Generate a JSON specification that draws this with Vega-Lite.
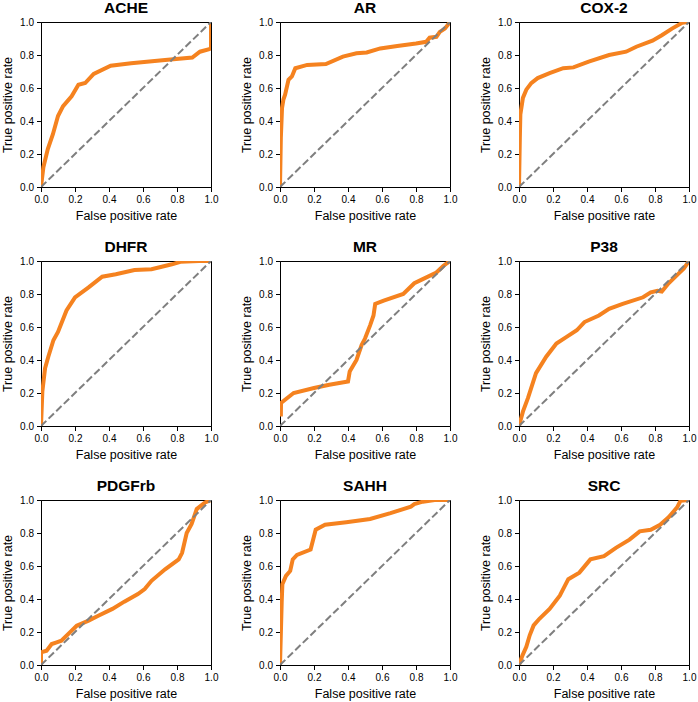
{
  "$schema": "https://vega.github.io/schema/vega-lite/v6.json",
  "padding": {"left": 1, "top": 0, "right": 5, "bottom": 0},
  "data": {"values": [
    {"t":"ACHE","k":"roc","x":0,"y":0},{"t":"ACHE","k":"roc","x":0.014,"y":0.12},{"t":"ACHE","k":"roc","x":0.04,"y":0.23},{"t":"ACHE","k":"roc","x":0.07,"y":0.32},{"t":"ACHE","k":"roc","x":0.1,"y":0.43},{"t":"ACHE","k":"roc","x":0.13,"y":0.49},{"t":"ACHE","k":"roc","x":0.18,"y":0.55},{"t":"ACHE","k":"roc","x":0.22,"y":0.62},{"t":"ACHE","k":"roc","x":0.26,"y":0.63},{"t":"ACHE","k":"roc","x":0.31,"y":0.685},{"t":"ACHE","k":"roc","x":0.41,"y":0.735},{"t":"ACHE","k":"roc","x":0.53,"y":0.75},{"t":"ACHE","k":"roc","x":0.73,"y":0.77},{"t":"ACHE","k":"roc","x":0.89,"y":0.785},{"t":"ACHE","k":"roc","x":0.935,"y":0.82},{"t":"ACHE","k":"roc","x":0.99,"y":0.835},{"t":"ACHE","k":"roc","x":1,"y":0.84},{"t":"ACHE","k":"roc","x":1,"y":1},
    {"t":"AR","k":"roc","x":0,"y":0},{"t":"AR","k":"roc","x":0.005,"y":0.3},{"t":"AR","k":"roc","x":0.012,"y":0.48},{"t":"AR","k":"roc","x":0.02,"y":0.53},{"t":"AR","k":"roc","x":0.03,"y":0.56},{"t":"AR","k":"roc","x":0.05,"y":0.65},{"t":"AR","k":"roc","x":0.07,"y":0.67},{"t":"AR","k":"roc","x":0.09,"y":0.72},{"t":"AR","k":"roc","x":0.16,"y":0.74},{"t":"AR","k":"roc","x":0.27,"y":0.745},{"t":"AR","k":"roc","x":0.37,"y":0.79},{"t":"AR","k":"roc","x":0.45,"y":0.81},{"t":"AR","k":"roc","x":0.51,"y":0.815},{"t":"AR","k":"roc","x":0.59,"y":0.84},{"t":"AR","k":"roc","x":0.69,"y":0.855},{"t":"AR","k":"roc","x":0.8,"y":0.87},{"t":"AR","k":"roc","x":0.86,"y":0.88},{"t":"AR","k":"roc","x":0.88,"y":0.905},{"t":"AR","k":"roc","x":0.92,"y":0.91},{"t":"AR","k":"roc","x":0.94,"y":0.94},{"t":"AR","k":"roc","x":0.97,"y":0.96},{"t":"AR","k":"roc","x":1,"y":1},
    {"t":"COX-2","k":"roc","x":0,"y":0},{"t":"COX-2","k":"roc","x":0.005,"y":0.3},{"t":"COX-2","k":"roc","x":0.008,"y":0.44},{"t":"COX-2","k":"roc","x":0.023,"y":0.54},{"t":"COX-2","k":"roc","x":0.043,"y":0.59},{"t":"COX-2","k":"roc","x":0.072,"y":0.63},{"t":"COX-2","k":"roc","x":0.11,"y":0.66},{"t":"COX-2","k":"roc","x":0.18,"y":0.69},{"t":"COX-2","k":"roc","x":0.26,"y":0.72},{"t":"COX-2","k":"roc","x":0.32,"y":0.725},{"t":"COX-2","k":"roc","x":0.41,"y":0.76},{"t":"COX-2","k":"roc","x":0.53,"y":0.8},{"t":"COX-2","k":"roc","x":0.63,"y":0.82},{"t":"COX-2","k":"roc","x":0.69,"y":0.85},{"t":"COX-2","k":"roc","x":0.785,"y":0.887},{"t":"COX-2","k":"roc","x":0.84,"y":0.92},{"t":"COX-2","k":"roc","x":0.9,"y":0.96},{"t":"COX-2","k":"roc","x":0.96,"y":0.995},{"t":"COX-2","k":"roc","x":1,"y":1},
    {"t":"DHFR","k":"roc","x":0,"y":0},{"t":"DHFR","k":"roc","x":0.008,"y":0.21},{"t":"DHFR","k":"roc","x":0.024,"y":0.35},{"t":"DHFR","k":"roc","x":0.043,"y":0.42},{"t":"DHFR","k":"roc","x":0.073,"y":0.52},{"t":"DHFR","k":"roc","x":0.1,"y":0.57},{"t":"DHFR","k":"roc","x":0.15,"y":0.7},{"t":"DHFR","k":"roc","x":0.2,"y":0.78},{"t":"DHFR","k":"roc","x":0.28,"y":0.84},{"t":"DHFR","k":"roc","x":0.36,"y":0.905},{"t":"DHFR","k":"roc","x":0.44,"y":0.92},{"t":"DHFR","k":"roc","x":0.55,"y":0.945},{"t":"DHFR","k":"roc","x":0.65,"y":0.95},{"t":"DHFR","k":"roc","x":0.71,"y":0.965},{"t":"DHFR","k":"roc","x":0.77,"y":0.98},{"t":"DHFR","k":"roc","x":0.82,"y":0.995},{"t":"DHFR","k":"roc","x":0.93,"y":1},{"t":"DHFR","k":"roc","x":1,"y":1},
    {"t":"MR","k":"roc","x":0.005,"y":0.057},{"t":"MR","k":"roc","x":0.006,"y":0.14},{"t":"MR","k":"roc","x":0.08,"y":0.2},{"t":"MR","k":"roc","x":0.2,"y":0.23},{"t":"MR","k":"roc","x":0.29,"y":0.25},{"t":"MR","k":"roc","x":0.4,"y":0.27},{"t":"MR","k":"roc","x":0.41,"y":0.33},{"t":"MR","k":"roc","x":0.45,"y":0.4},{"t":"MR","k":"roc","x":0.48,"y":0.49},{"t":"MR","k":"roc","x":0.5,"y":0.53},{"t":"MR","k":"roc","x":0.53,"y":0.61},{"t":"MR","k":"roc","x":0.55,"y":0.67},{"t":"MR","k":"roc","x":0.56,"y":0.74},{"t":"MR","k":"roc","x":0.61,"y":0.76},{"t":"MR","k":"roc","x":0.725,"y":0.8},{"t":"MR","k":"roc","x":0.79,"y":0.865},{"t":"MR","k":"roc","x":0.84,"y":0.89},{"t":"MR","k":"roc","x":0.92,"y":0.93},{"t":"MR","k":"roc","x":0.96,"y":0.97},{"t":"MR","k":"roc","x":1,"y":1},
    {"t":"P38","k":"roc","x":0,"y":0},{"t":"P38","k":"roc","x":0.023,"y":0.087},{"t":"P38","k":"roc","x":0.053,"y":0.17},{"t":"P38","k":"roc","x":0.1,"y":0.32},{"t":"P38","k":"roc","x":0.16,"y":0.42},{"t":"P38","k":"roc","x":0.22,"y":0.5},{"t":"P38","k":"roc","x":0.28,"y":0.54},{"t":"P38","k":"roc","x":0.34,"y":0.58},{"t":"P38","k":"roc","x":0.385,"y":0.63},{"t":"P38","k":"roc","x":0.47,"y":0.67},{"t":"P38","k":"roc","x":0.53,"y":0.71},{"t":"P38","k":"roc","x":0.61,"y":0.74},{"t":"P38","k":"roc","x":0.73,"y":0.78},{"t":"P38","k":"roc","x":0.775,"y":0.81},{"t":"P38","k":"roc","x":0.815,"y":0.82},{"t":"P38","k":"roc","x":0.84,"y":0.815},{"t":"P38","k":"roc","x":0.88,"y":0.865},{"t":"P38","k":"roc","x":0.94,"y":0.925},{"t":"P38","k":"roc","x":0.97,"y":0.955},{"t":"P38","k":"roc","x":1,"y":1},
    {"t":"PDGFrb","k":"roc","x":0,"y":0},{"t":"PDGFrb","k":"roc","x":0,"y":0.077},{"t":"PDGFrb","k":"roc","x":0.033,"y":0.087},{"t":"PDGFrb","k":"roc","x":0.063,"y":0.127},{"t":"PDGFrb","k":"roc","x":0.092,"y":0.137},{"t":"PDGFrb","k":"roc","x":0.12,"y":0.147},{"t":"PDGFrb","k":"roc","x":0.17,"y":0.198},{"t":"PDGFrb","k":"roc","x":0.21,"y":0.238},{"t":"PDGFrb","k":"roc","x":0.28,"y":0.269},{"t":"PDGFrb","k":"roc","x":0.34,"y":0.3},{"t":"PDGFrb","k":"roc","x":0.42,"y":0.34},{"t":"PDGFrb","k":"roc","x":0.49,"y":0.384},{"t":"PDGFrb","k":"roc","x":0.57,"y":0.43},{"t":"PDGFrb","k":"roc","x":0.61,"y":0.46},{"t":"PDGFrb","k":"roc","x":0.65,"y":0.51},{"t":"PDGFrb","k":"roc","x":0.73,"y":0.58},{"t":"PDGFrb","k":"roc","x":0.81,"y":0.64},{"t":"PDGFrb","k":"roc","x":0.83,"y":0.68},{"t":"PDGFrb","k":"roc","x":0.857,"y":0.8},{"t":"PDGFrb","k":"roc","x":0.886,"y":0.855},{"t":"PDGFrb","k":"roc","x":0.916,"y":0.945},{"t":"PDGFrb","k":"roc","x":0.965,"y":0.985},{"t":"PDGFrb","k":"roc","x":1,"y":1},
    {"t":"SAHH","k":"roc","x":0,"y":0},{"t":"SAHH","k":"roc","x":0.01,"y":0.38},{"t":"SAHH","k":"roc","x":0.014,"y":0.49},{"t":"SAHH","k":"roc","x":0.035,"y":0.54},{"t":"SAHH","k":"roc","x":0.06,"y":0.57},{"t":"SAHH","k":"roc","x":0.075,"y":0.64},{"t":"SAHH","k":"roc","x":0.1,"y":0.667},{"t":"SAHH","k":"roc","x":0.18,"y":0.7},{"t":"SAHH","k":"roc","x":0.21,"y":0.82},{"t":"SAHH","k":"roc","x":0.265,"y":0.85},{"t":"SAHH","k":"roc","x":0.39,"y":0.865},{"t":"SAHH","k":"roc","x":0.53,"y":0.885},{"t":"SAHH","k":"roc","x":0.65,"y":0.92},{"t":"SAHH","k":"roc","x":0.77,"y":0.96},{"t":"SAHH","k":"roc","x":0.79,"y":0.975},{"t":"SAHH","k":"roc","x":0.84,"y":0.99},{"t":"SAHH","k":"roc","x":0.91,"y":1},{"t":"SAHH","k":"roc","x":1,"y":1},
    {"t":"SRC","k":"roc","x":0,"y":0},{"t":"SRC","k":"roc","x":0.02,"y":0.057},{"t":"SRC","k":"roc","x":0.043,"y":0.11},{"t":"SRC","k":"roc","x":0.063,"y":0.18},{"t":"SRC","k":"roc","x":0.086,"y":0.24},{"t":"SRC","k":"roc","x":0.12,"y":0.28},{"t":"SRC","k":"roc","x":0.18,"y":0.34},{"t":"SRC","k":"roc","x":0.24,"y":0.42},{"t":"SRC","k":"roc","x":0.29,"y":0.52},{"t":"SRC","k":"roc","x":0.355,"y":0.56},{"t":"SRC","k":"roc","x":0.42,"y":0.64},{"t":"SRC","k":"roc","x":0.5,"y":0.66},{"t":"SRC","k":"roc","x":0.57,"y":0.71},{"t":"SRC","k":"roc","x":0.65,"y":0.76},{"t":"SRC","k":"roc","x":0.71,"y":0.81},{"t":"SRC","k":"roc","x":0.775,"y":0.82},{"t":"SRC","k":"roc","x":0.83,"y":0.85},{"t":"SRC","k":"roc","x":0.88,"y":0.895},{"t":"SRC","k":"roc","x":0.93,"y":0.955},{"t":"SRC","k":"roc","x":0.95,"y":0.995},{"t":"SRC","k":"roc","x":1,"y":1},
    {"t":"ACHE","k":"diag","x":0,"y":0},{"t":"ACHE","k":"diag","x":1,"y":1},
    {"t":"AR","k":"diag","x":0,"y":0},{"t":"AR","k":"diag","x":1,"y":1},
    {"t":"COX-2","k":"diag","x":0,"y":0},{"t":"COX-2","k":"diag","x":1,"y":1},
    {"t":"DHFR","k":"diag","x":0,"y":0},{"t":"DHFR","k":"diag","x":1,"y":1},
    {"t":"MR","k":"diag","x":0,"y":0},{"t":"MR","k":"diag","x":1,"y":1},
    {"t":"P38","k":"diag","x":0,"y":0},{"t":"P38","k":"diag","x":1,"y":1},
    {"t":"PDGFrb","k":"diag","x":0,"y":0},{"t":"PDGFrb","k":"diag","x":1,"y":1},
    {"t":"SAHH","k":"diag","x":0,"y":0},{"t":"SAHH","k":"diag","x":1,"y":1},
    {"t":"SRC","k":"diag","x":0,"y":0},{"t":"SRC","k":"diag","x":1,"y":1}
  ]},
  "facet": {
    "field": "t", "type": "nominal",
    "sort": ["ACHE","AR","COX-2","DHFR","MR","P38","PDGFrb","SAHH","SRC"],
    "header": {"title": null, "labelFont": "Liberation Sans", "labelFontSize": 15.5, "labelFontWeight": "bold", "labelColor": "black", "labelPadding": 1}
  },
  "columns": 3,
  "bounds": "flush",
  "spacing": {"row": 74, "column": 69},
  "resolve": {"axis": {"x": "independent", "y": "independent"}},
  "spec": {
    "width": 170,
    "height": 165,
    "encoding": {
      "x": {"field": "x", "type": "quantitative", "scale": {"domain": [0, 1], "nice": false},
            "axis": {"title": "False positive rate", "values": [0, 0.2, 0.4, 0.6, 0.8, 1], "format": ".1f", "labelFlush": false}},
      "y": {"field": "y", "type": "quantitative", "scale": {"domain": [0, 1], "nice": false},
            "axis": {"title": "True positive rate", "values": [0, 0.2, 0.4, 0.6, 0.8, 1], "format": ".1f", "labelFlush": false}},
      "order": [{"field": "x", "type": "quantitative"}, {"field": "y", "type": "quantitative"}]
    },
    "layer": [
      {"transform": [{"filter": "datum.k === 'roc'"}],
       "mark": {"type": "line", "color": "#f5821f", "strokeWidth": 4, "clip": true}},
      {"transform": [{"filter": "datum.k === 'diag'"}],
       "mark": {"type": "line", "color": "#7f7f7f", "strokeWidth": 2, "strokeDash": [7.4, 3.2], "clip": true}}
    ]
  },
  "config": {
    "font": "Liberation Sans",
    "view": {"stroke": "black", "strokeWidth": 1},
    "axis": {"grid": false, "domainColor": "black", "domainWidth": 1, "tickColor": "black", "tickSize": 4.5,
             "labelColor": "black", "labelFontSize": 10, "labelFont": "Liberation Sans", "labelPadding": 3, "labelFlush": false,
             "titleColor": "black", "titleFontSize": 12.5, "titleFontWeight": "normal", "titleFont": "Liberation Sans", "titlePadding": 5}
  }
}
